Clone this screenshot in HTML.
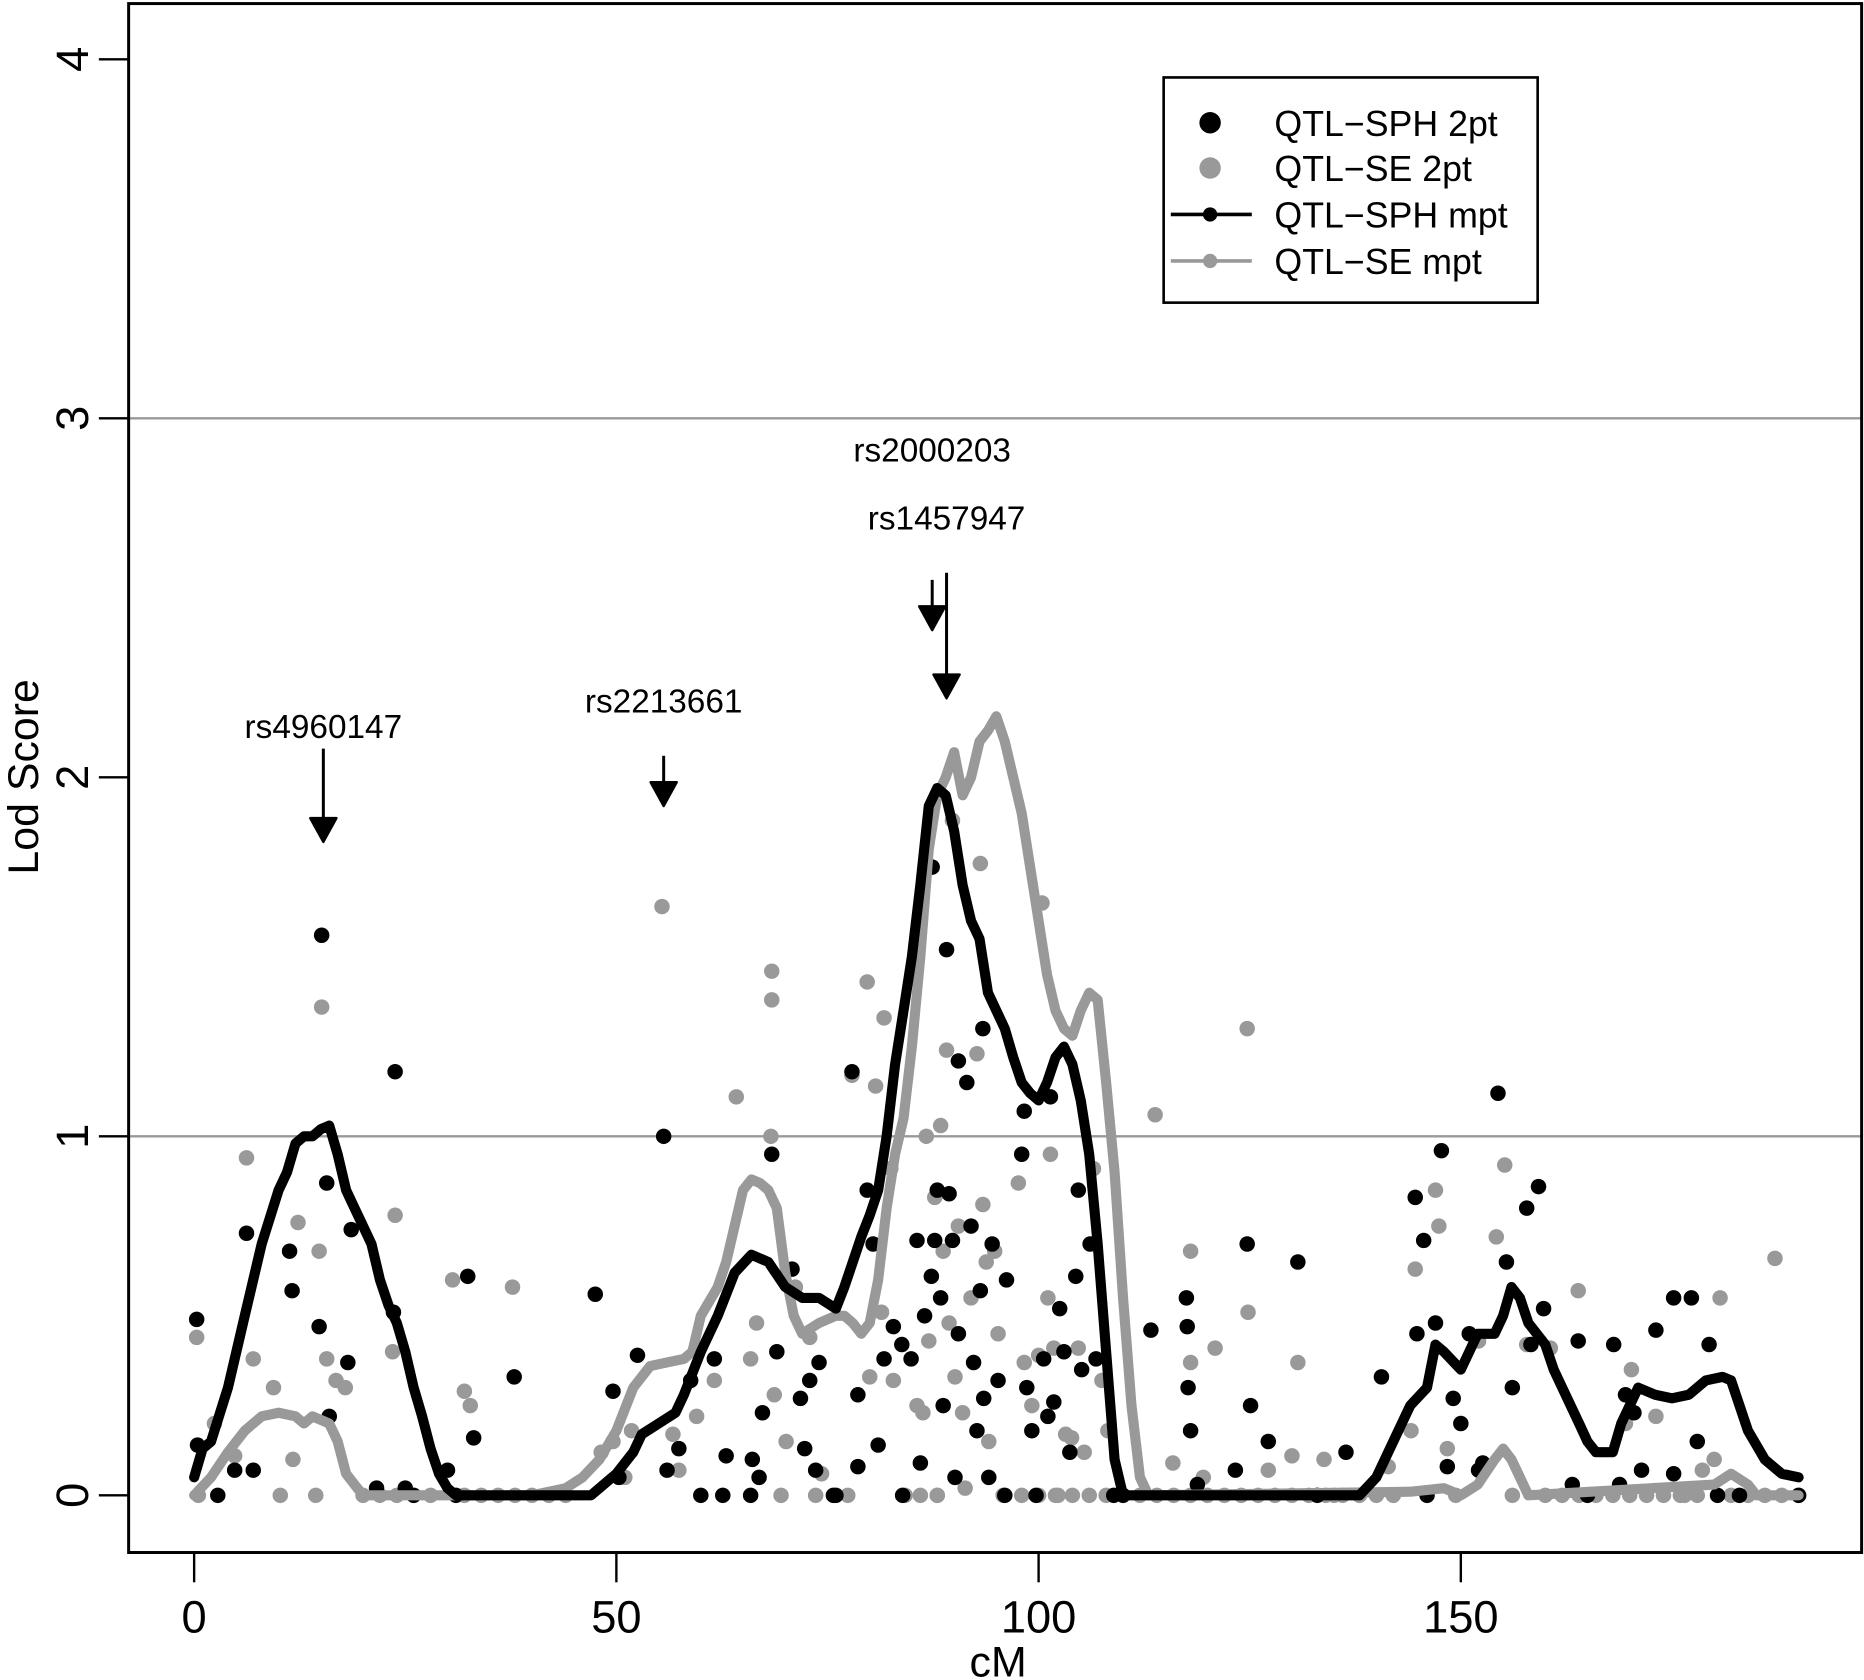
<!DOCTYPE html>
<html><head><meta charset="utf-8"><style>
html,body{margin:0;padding:0;background:#fff;}
svg{display:block;font-family:"Liberation Sans",Arial,sans-serif;}
</style></head><body>
<svg id="chart" width="1864" height="1680" viewBox="0 0 1565 1410" preserveAspectRatio="none" xmlns="http://www.w3.org/2000/svg">
<g id="grid"></g>
<g id="pts"></g>
<g id="lines"></g>
<g id="axes"></g>
<g id="ann"></g>
<g id="legend">
<rect x="977" y="65" width="314" height="189" fill="#fff" stroke="#000" stroke-width="2.2"/>
<g><circle cx="1016" cy="103" r="9" fill="#000"/><text x="1070" y="114" font-size="30">QTL−SPH 2pt</text></g>
<g><circle cx="1016" cy="141" r="9" fill="#999"/><text x="1070" y="152" font-size="30">QTL−SE 2pt</text></g>
<g><line x1="983" x2="1051" y1="180" y2="180" stroke="#000" stroke-width="3"/><circle cx="1016" cy="180" r="6" fill="#000"/><text x="1070" y="191" font-size="30">QTL−SPH mpt</text></g>
<g><line x1="983" x2="1051" y1="219" y2="219" stroke="#999" stroke-width="3"/><circle cx="1016" cy="219" r="6" fill="#999"/><text x="1070" y="230" font-size="30">QTL−SE mpt</text></g>
</g>
</svg>
<script>
const xTicks=[0,50,100,150];
const yTicks=[0,1,2,3,4];
const thresholds=[1,3];
const sphLineX=[0,1,2,4,6,8,10,11,12,13,14,15,16,17,18,19,20,21,22,23,24,25,26,27,28,29,30,31,47,48,50,52,53,55,57,58,60,62,64,66,68,70,72,74,76,77,78,79,80,81,82,83,84,85,86,87,88,89,90,91,92,93,94,96,97,98,99,100,101,102,103,104,105,106,107,108,109,110,138,140,142,144,146,147,148,150,152,154,155,156,157,158,160,161,162,164,165,166,168,169,171,173,175,177,179,181,182,183,184,186,188,190];
const sphLineY=[0.05,0.13,0.15,0.3,0.5,0.7,0.85,0.9,0.98,1.0,1.0,1.02,1.03,0.95,0.85,0.8,0.75,0.7,0.6,0.53,0.48,0.4,0.3,0.22,0.13,0.06,0.02,0,0,0.02,0.06,0.12,0.17,0.2,0.23,0.28,0.4,0.5,0.62,0.67,0.65,0.58,0.55,0.55,0.52,0.58,0.65,0.72,0.78,0.85,1.0,1.2,1.35,1.5,1.7,1.92,1.97,1.95,1.85,1.7,1.6,1.55,1.4,1.3,1.22,1.15,1.12,1.1,1.15,1.22,1.25,1.2,1.1,0.95,0.7,0.4,0.1,0,0,0.05,0.15,0.25,0.3,0.42,0.4,0.35,0.45,0.45,0.5,0.58,0.55,0.48,0.42,0.35,0.3,0.2,0.15,0.12,0.12,0.2,0.3,0.28,0.27,0.28,0.32,0.33,0.32,0.25,0.18,0.1,0.06,0.05];
const seLineX=[0,2,4,6,8,10,12,13,14,16,17,18,19,20,40,44,46,48,50,52,54,56,58,59,60,62,63,65,66,67,68,69,70,71,72,74,76,77,78,79,80,81,82,83,84,85,86,87,88,89,90,91,92,93,94,95,96,97,98,99,100,101,102,103,104,105,106,107,108,109,110,111,112,113,144,148,150,152,154,155,156,157,158,180,182,184,185,190];
const seLineY=[0,0.05,0.12,0.18,0.22,0.23,0.22,0.2,0.22,0.2,0.15,0.06,0.03,0,0,0.02,0.05,0.1,0.18,0.3,0.36,0.37,0.38,0.4,0.5,0.58,0.65,0.85,0.88,0.87,0.85,0.8,0.62,0.5,0.45,0.48,0.5,0.5,0.48,0.45,0.48,0.6,0.8,0.95,1.05,1.25,1.5,1.8,1.95,2.0,2.07,1.95,2.0,2.1,2.13,2.17,2.1,2.0,1.9,1.75,1.6,1.45,1.35,1.3,1.28,1.35,1.4,1.38,1.15,0.9,0.55,0.25,0.05,0,0.01,0.02,0,0.03,0.1,0.13,0.1,0.05,0,0.03,0.06,0.03,0,0];
const sphPtX=[0.3,0.4,2.8,4.8,6.2,7,11.3,11.6,14.8,15.1,15.7,16,18.2,18.6,23.8,23.6,21.6,25,30,32.4,33.1,37.9,47.5,49.6,50.3,52.5,55.6,56,57.4,58.8,61.6,62.6,63,66.1,66.9,67.3,68.4,69,65.9,70.8,71.8,72.3,72.9,73.6,74,75.7,77.9,78.6,78.6,79.7,80.4,81,81.7,82.8,83.8,83.9,84.9,85.6,86,86.5,87.3,87.4,87.7,88,88.4,88.7,89.1,89.4,89.8,90.1,90.5,90.5,91.5,92,92.3,92.7,93.1,93.4,93.5,94.1,94.5,95.2,96.2,98,98.3,98.6,99.2,99.7,100.6,101.1,101.4,101.8,102.5,103,103.7,104.4,104.7,105.1,106.1,106.8,108.9,113.3,117.5,117.6,117.7,118,118.8,123.3,124.7,125.1,127.2,130.7,136.4,140.6,144.6,144.8,145.6,147,147.7,148.4,149.1,150,151,152.1,152.6,154.4,155.4,156.1,157.8,158.3,159.2,159.8,163.2,163.9,168.1,168.8,169.5,170.5,171.4,173.1,175.2,175.2,177.3,178,179.4,180.4,183,190];
const sphPtY=[0.49,0.14,0,0.07,0.73,0.07,0.68,0.57,0.47,1.56,0.87,0.22,0.37,0.74,1.18,0.51,0.02,0.02,0.07,0.61,0.16,0.33,0.56,0.29,0.05,0.39,1.0,0.07,0.13,0.32,0.38,0,0.11,0.1,0.05,0.23,0.95,0.4,0,0.63,0.27,0.13,0.32,0.07,0.37,0,1.18,0.08,0.28,0.85,0.7,0.14,0.38,0.47,0.42,0,0.38,0.71,0.09,0.5,0.61,1.75,0.71,0.85,0.55,0.25,1.52,0.84,0.71,0.05,1.21,0.45,1.15,0.75,0.37,0.18,0.57,1.3,0.27,0.05,0.7,0.32,0.6,0.95,1.07,0.3,0.18,0,0.38,0.22,1.11,0.26,0.52,0.4,0.12,0.61,0.85,0.35,0.7,0.38,0,0.46,0.55,0.47,0.3,0.18,0.03,0.07,0.7,0.25,0.15,0.65,0.12,0.33,0.83,0.45,0.71,0.48,0.96,0.08,0.27,0.2,0.45,0.07,0.09,1.12,0.65,0.3,0.8,0.42,0.86,0.52,0.03,0.43,0.42,0.03,0.28,0.23,0.07,0.46,0.06,0.55,0.55,0.15,0.42,0,0,0];
const sphZeroX=[26,31,60,76,96,110,133,146,165];
const sePtX=[0.3,0.5,2.4,4.8,6.2,7,9.4,10.2,11.7,12.3,14.4,14.8,15.1,15.7,16.8,17.9,23.5,23.8,30.6,32,32.7,37.7,48.2,49.6,51,51.8,55.4,56.7,57.4,59.5,61.6,64.2,65.9,66.6,68.4,68.4,68.3,68.7,69.5,70.1,71.2,72.9,73.6,74.3,77.4,77.9,79.7,80,80.7,81.4,81.7,82.5,82.8,84.2,85.6,86.3,86.7,87,87.7,88,88.4,88.7,89.1,89.4,89.8,90.1,90.5,91,91.3,92,92.7,93.1,93.4,93.8,94.1,94.8,95.2,95.8,97.6,98.3,99.2,100,100.4,101.1,101.4,101.8,102.3,103.2,103.9,104.7,105.4,106.5,107.5,108.2,113.8,115.9,118,118,119.5,120.9,124.7,124.8,127.2,130,130.7,133.8,135,141.4,144.1,144.6,147,147.4,148.4,149.4,152.1,154.2,155.2,156.1,157.8,160.6,163.9,169.5,170.2,173.1,176.5,178.6,180,180.7,187.2];
const sePtY=[0.44,0,0.2,0.11,0.94,0.38,0.3,0,0.1,0.76,0,0.68,1.36,0.38,0.32,0.3,0.4,0.78,0.6,0.29,0.25,0.58,0.12,0.15,0.05,0.18,1.64,0.17,0.07,0.22,0.32,1.11,0.38,0.48,1.46,1.38,1.0,0.28,0,0.15,0.58,0.44,0,0.06,0,1.17,1.43,0.33,1.14,0.51,1.33,0.91,0.32,0,0.25,0.23,1.0,0.43,0.83,0,1.03,0.68,1.24,0.48,1.88,0.33,0.75,0.23,0.02,0.55,1.23,1.76,0.81,0.65,0.15,0.68,0.45,0,0.87,0.37,0.25,0.39,1.65,0.55,0.95,0.41,0,0.17,0.16,0.41,0.12,0.91,0.32,0.18,1.06,0.09,0.68,0.37,0.05,0.41,1.3,0.51,0.07,0.11,0.37,0.1,0,0.08,0.18,0.63,0.85,0.75,0.13,0,0.43,0.72,0.92,0,0.42,0.41,0.57,0.2,0.35,0.22,0,0.07,0.1,0.55,0.66];
const seZeroX=[20,22,24,26,28,32,34,36,38,40,42,44,86,88,98,100,102,104,106,108,112,114,116,118,120,122,124,126,128,130,132,134,136,138,140,142,160,162,164,166,168,170,172,174,176,178,182,184,186,188,190];
const markerNames=["rs4960147","rs2213661","rs2000203","rs1457947"];
const markerCM=[15.3,55.6,87.4,89.1];
const markerLod=[1.82,1.92,2.41,2.22];
const markerLen=[0.26,0.14,0.14,0.35];
const markerLabelLod=[2.11,2.18,2.88,2.69];

const NS="http://www.w3.org/2000/svg";
const X0=108,X1=1563,Y0=3,Y1=1303;
function sx(v){return 163+v*7.09;}
function sy(v){return 1255-v*301.3;}
function mk(tag,attrs,parent){const e=document.createElementNS(NS,tag);for(const k in attrs)e.setAttribute(k,attrs[k]);parent.appendChild(e);return e;}
const grid=document.getElementById('grid'),pts=document.getElementById('pts'),lines=document.getElementById('lines'),axes=document.getElementById('axes'),ann=document.getElementById('ann');
thresholds.forEach(t=>{const l=mk('line',{x1:X0,x2:X1,y1:sy(t),y2:sy(t),stroke:'#999','stroke-width':2},grid);

});
function dot(x,y,col,name){const c=mk('circle',{cx:sx(x),cy:sy(y),r:6.5,fill:col},pts);

}
seZeroX.forEach(x=>dot(x,0,'#999','se-2pt-point'));
sePtX.forEach((x,i)=>{if(sePtY[i]!==undefined)dot(x,sePtY[i],'#999','se-2pt-point');});
sphZeroX.forEach(x=>dot(x,0,'#000','sph-2pt-point'));
sphPtX.forEach((x,i)=>{if(sphPtY[i]!==undefined)dot(x,sphPtY[i],'#000','sph-2pt-point');});
function poly(xs,ys,col,name){const d=xs.map((x,i)=>sx(x).toFixed(1)+','+sy(ys[i]).toFixed(1)).join(' ');
const p=mk('polyline',{points:d,fill:'none',stroke:col,'stroke-width':8.5,'stroke-linejoin':'round','stroke-linecap':'round'},lines);

}
poly(seLineX,seLineY,'#999','se-mpt-line');
poly(sphLineX,sphLineY,'#000','sph-mpt-line');
const box=mk('rect',{x:X0,y:Y0,width:X1-X0,height:Y1-Y0,fill:'none',stroke:'#000','stroke-width':2.5},axes);


xTicks.forEach(t=>{mk('line',{x1:sx(t),x2:sx(t),y1:Y1,y2:Y1+25,stroke:'#000','stroke-width':2},axes);
const tx=mk('text',{x:sx(t),y:1370,'font-size':38,'text-anchor':'middle'},axes);tx.textContent=t;

});
yTicks.forEach(t=>{mk('line',{x1:X0-25,x2:X0,y1:sy(t),y2:sy(t),stroke:'#000','stroke-width':2},axes);
const tx=mk('text',{x:0,y:0,'font-size':38,'text-anchor':'middle',transform:`translate(74,${sy(t)}) rotate(-90)`},axes);tx.textContent=t;

});
const xt=mk('text',{x:838,y:1407,'font-size':36,'text-anchor':'middle'},axes);xt.textContent='cM';


const yt=mk('text',{x:0,y:0,'font-size':36,'text-anchor':'middle',transform:'translate(32,652) rotate(-90)'},axes);yt.textContent='Lod Score';


markerNames.forEach((n,i)=>{const x=sx(markerCM[i]),yb=sy(markerLod[i]),yt2=sy(markerLod[i]+markerLen[i]);
const g=mk('g',{},ann);


mk('line',{x1:x,x2:x,y1:yt2,y2:yb-12,stroke:'#000','stroke-width':2.5},g);
mk('polygon',{points:`${x-11},${yb-20} ${x+11},${yb-20} ${x},${yb}`,fill:'#000',stroke:'#000','stroke-width':2,'stroke-linejoin':'round'},g);
const t=mk('text',{x:x,y:sy(markerLabelLod[i]),'font-size':28,'text-anchor':'middle'},g);t.textContent=n;});
</script>
</body></html>
